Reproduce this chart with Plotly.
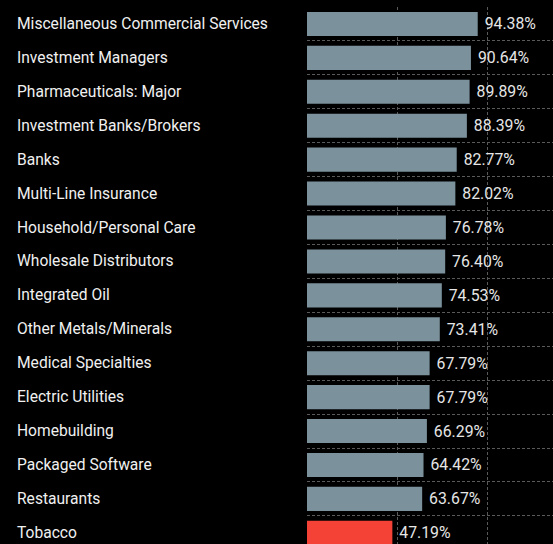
import plotly.graph_objects as go

industries = [
    "Miscellaneous Commercial Services",
    "Investment Managers",
    "Pharmaceuticals: Major",
    "Investment Banks/Brokers",
    "Banks",
    "Multi-Line Insurance",
    "Household/Personal Care",
    "Wholesale Distributors",
    "Integrated Oil",
    "Other Metals/Minerals",
    "Medical Specialties",
    "Electric Utilities",
    "Homebuilding",
    "Packaged Software",
    "Restaurants",
    "Tobacco",
]
pct = [94.38, 90.64, 89.89, 88.39, 82.77, 82.02, 76.78, 76.40,
       74.53, 73.41, 67.79, 67.79, 66.29, 64.42, 63.67, 47.19]
highlight = "Tobacco"

grey_bar = "#7b919c"
red_bar = "#f44336"
colors = [red_bar if name == highlight else grey_bar for name in industries]
rows = list(range(len(industries)))

W, H = 553, 544
fig = go.Figure()
fig.add_trace(go.Bar(
    x=pct,
    y=rows,
    orientation="h",
    width=0.71,
    marker=dict(color=colors, line=dict(width=0)),
    text=[f" {v:.2f}%" for v in pct],
    textposition="outside",
    textfont=dict(color="#e6e6e6", size=15.8, family="Roboto"),
    cliponaxis=False,
    hoverinfo="skip",
))

# category labels, left aligned at the left edge of the figure
for r, name in zip(rows, industries):
    fig.add_annotation(
        x=15 / W, xref="paper", y=r, yref="y",
        text=name, showarrow=False, xanchor="left", yanchor="middle",
        font=dict(color="#f0f0f0", size=15.6, family="Roboto"),
    )

grid = "#5a5a5a"
fig.update_layout(
    width=W, height=H,
    paper_bgcolor="#000000",
    plot_bgcolor="#000000",
    margin=dict(l=0, r=0, t=7, b=0),
    showlegend=False,
    xaxis=dict(
        domain=[307 / W, 1],
        range=[0, 136],
        tickvals=[0, 50, 100],
        showticklabels=False,
        showgrid=True, gridcolor=grid, griddash="3px,2px", gridwidth=1,
        zeroline=False, showline=False,
    ),
    yaxis=dict(
        range=[len(industries) - 0.67, -0.5],
        showticklabels=False,
        showgrid=False, zeroline=False, showline=False,
        minor=dict(tick0=0.5, dtick=1, showgrid=True, gridcolor=grid,
                   griddash="3px,2px", gridwidth=1, ticks=""),
    ),
)

fig.write_html("out.html", config={"displayModeBar": False},
               post_script="document.body.style.margin='0';")
